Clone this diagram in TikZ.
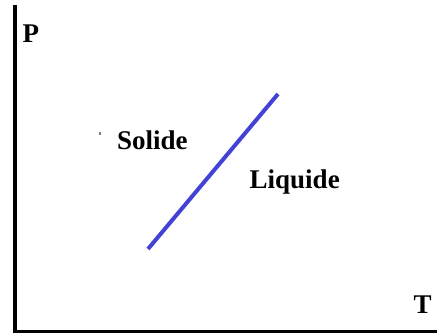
\documentclass[tikz,border=0pt]{standalone}
\usepackage{fontspec}
\setmainfont{Liberation Serif}
\definecolor{lineblue}{RGB}{66,66,214}
\begin{document}
\begin{tikzpicture}[x=1pt, y=-1pt,
  lbl/.style={font=\fontsize{27}{32}\selectfont\bfseries, inner sep=0pt, anchor=base west}]
\useasboundingbox (0,0) rectangle (437,333);
  \draw[line width=4.5pt](15,5)--(15,333);
  \draw[line width=3pt](12.7,331.5)--(437,331.5);
\node[lbl] (p) at (22.5,42) {P};
\node[lbl] (t) at (413.5,313) {T};
\coordinate (a) at (148,249);
\coordinate (b) at (278,94);
\draw[lineblue, line width=4pt](a)--(b);
\draw[gray, line width=1.2pt](100,132)--(100,135);
\node[lbl] (sol) at (117,149) {Solide};
\node[lbl] (liq) at (249.5,188) {Liquide};
\end{tikzpicture}
\end{document}
